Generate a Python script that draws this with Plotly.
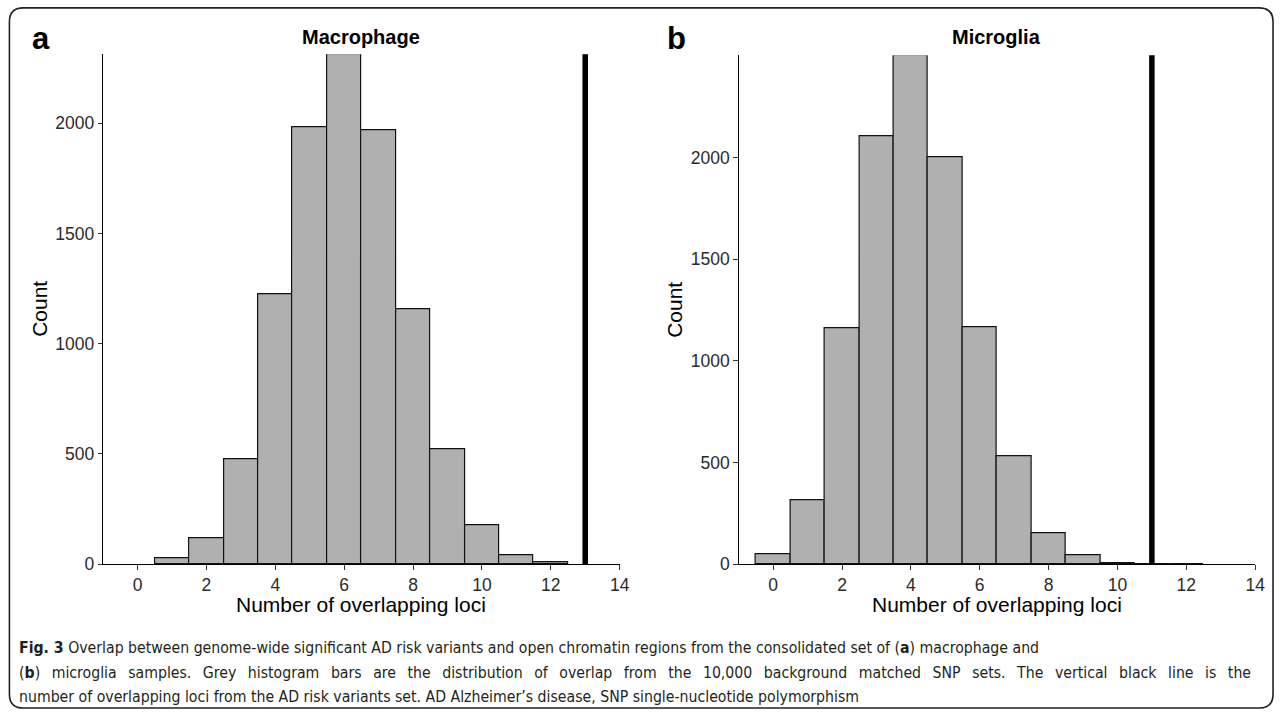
import plotly.graph_objects as go

# ---------------- data ----------------
bins_a = [1, 2, 3, 4, 5, 6, 7, 8, 9, 10, 11, 12]
counts_a = [25, 118, 477, 1226, 1981, 2313, 1969, 1157, 523, 174, 41, 10]
observed_a = 13

bins_b = [0, 1, 2, 3, 4, 5, 6, 7, 8, 9, 10, 11, 12]
counts_b = [50, 314, 1160, 2105, 2505, 2005, 1165, 532, 150, 42, 3, 1, 1]
observed_b = 11

x_ticks = [0, 2, 4, 6, 8, 10, 12, 14]
y_ticks = [0, 500, 1000, 1500, 2000]
titles = ["Macrophage", "Microglia"]
panel_labels = ["a", "b"]
x_title = "Number of overlapping loci"
y_title = "Count"
caption = [
    "<b>Fig. 3</b> Overlap between genome-wide significant AD risk variants and open chromatin regions from the consolidated set of (<b>a</b>) macrophage and",
    "(<b>b</b>) microglia samples. Grey histogram bars are the distribution of overlap from the 10,000 background matched SNP sets. The vertical black line is the",
    "number of overlapping loci from the AD risk variants set. AD Alzheimer\u2019s disease, SNP single-nucleotide polymorphism",
]
caption_justified = [False, True, False]

# ---------------- layout helpers ----------------
W, H = 1287, 722
def fx(px):
    return px / W
def fy(py):
    return 1 - py / H

FONT = "Liberation Sans, Arial, sans-serif"
CAP_FONT = "DejaVu Sans Condensed, Liberation Sans Narrow, Liberation Sans, sans-serif"

fig = go.Figure()

bar_style = dict(color="#B0B0B0", line=dict(color="#111111", width=1.2))
fig.add_trace(go.Bar(x=bins_a, y=counts_a, width=1, marker=bar_style,
                     xaxis="x", yaxis="y", showlegend=False, hoverinfo="x+y"))
fig.add_trace(go.Bar(x=bins_b, y=counts_b, width=1, marker=bar_style,
                     xaxis="x2", yaxis="y2", showlegend=False, hoverinfo="x+y"))

panels = [
    dict(x0=104, x1=624.5, y0=572, y1=55, ymax=max(counts_a), obs=observed_a),
    dict(x0=744.5, x1=1265, y0=572, y1=56, ymax=max(counts_b), obs=observed_b),
]

def axis_common():
    return dict(showline=True, linecolor="#000000", linewidth=1.1,
                ticks="outside", ticklen=4.5, tickwidth=1.1, tickcolor="#333333",
                tickfont=dict(family=FONT, size=17.5, color="#2b2b2b"),
                showgrid=False, zeroline=False, fixedrange=True)

layout = dict(width=W, height=H, margin=dict(l=0, r=0, t=0, b=0),
              paper_bgcolor="white", plot_bgcolor="white", bargap=0,
              showlegend=False)

annotations = []
shapes = []
for i, p in enumerate(panels):
    sx = "" if i == 0 else str(i + 1)
    xa = axis_common()
    xa.update(domain=[fx(p["x0"]), fx(p["x1"])], range=[-1, 14],
              tickvals=x_ticks, anchor="y" + sx)
    ya = axis_common()
    ya.update(domain=[fy(p["y0"]), fy(p["y1"])], range=[0, p["ymax"]],
              tickvals=y_ticks, anchor="x" + sx)
    layout["xaxis" + sx] = xa
    layout["yaxis" + sx] = ya

    # observed value line
    shapes.append(dict(type="line", xref="x" + sx, yref="y" + sx + " domain",
                       x0=p["obs"], x1=p["obs"], y0=0, y1=1,
                       line=dict(color="black", width=5.5), layer="above"))

    cx = (p["x0"] + p["x1"]) / 2
    # panel title
    annotations.append(dict(text="<b>%s</b>" % titles[i], x=fx(cx), y=fy(38),
                            xref="paper", yref="paper", showarrow=False,
                            xanchor="center", yanchor="middle",
                            font=dict(family=FONT, size=20, color="black")))
    # panel letter
    annotations.append(dict(text="<b>%s</b>" % panel_labels[i],
                            x=fx(41 + (p["x0"] - 104)), y=fy(39),
                            xref="paper", yref="paper", showarrow=False,
                            xanchor="center", yanchor="middle",
                            font=dict(family=FONT, size=31, color="black")))
    # x title
    annotations.append(dict(text=x_title, x=fx(cx), y=fy(613),
                            xref="paper", yref="paper", showarrow=False,
                            xanchor="center", yanchor="middle",
                            font=dict(family=FONT, size=21, color="black")))
    # y title
    annotations.append(dict(text=y_title, x=fx(39 + (p["x0"] - 104)),
                            y=fy((p["y0"] + p["y1"]) / 2),
                            xref="paper", yref="paper", showarrow=False,
                            textangle=-90, xanchor="center", yanchor="middle",
                            font=dict(family=FONT, size=21, color="black")))

for j, line in enumerate(caption):
    if caption_justified[j]:
        # widen word gaps so the line runs to the right margin (justified look)
        line = line.replace(" ", " \u2002")
    annotations.append(dict(text=line, x=fx(17), y=fy(657 + 24.5 * j),
                            xref="paper", yref="paper", showarrow=False,
                            xanchor="left", yanchor="middle", align="left",
                            font=dict(family=CAP_FONT, size=15.7, color="#231F20")))

# rounded outer frame
L, T, R, B, r = 9.5, 8, 1283, 718, 14
path = (
    f"M {fx(L + r)},{fy(T)} L {fx(R - r)},{fy(T)} Q {fx(R)},{fy(T)} {fx(R)},{fy(T + r)} "
    f"L {fx(R)},{fy(B - r)} Q {fx(R)},{fy(B)} {fx(R - r)},{fy(B)} "
    f"L {fx(L + r)},{fy(B)} Q {fx(L)},{fy(B)} {fx(L)},{fy(B - r)} "
    f"L {fx(L)},{fy(T + r)} Q {fx(L)},{fy(T)} {fx(L + r)},{fy(T)} Z"
)
shapes.append(dict(type="path", xref="paper", yref="paper", path=path,
                   line=dict(color="#222222", width=1.6), layer="below"))

layout["annotations"] = annotations
layout["shapes"] = shapes
fig.update_layout(**layout)
fig.write_html("out.html")
